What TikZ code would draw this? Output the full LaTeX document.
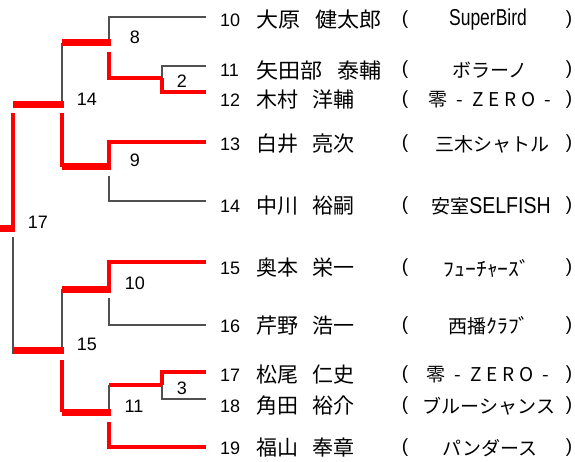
\documentclass[tikz,border=0pt]{standalone}
\usepackage{fontspec}
\usepackage{graphicx}
\setmainfont{Liberation Sans}
\newfontfamily\jfont{Noto Sans CJK JP}
\newfontfamily\jnamefont{Noto Sans CJK JP}[WordSpace=3]
\newfontfamily\jfontsp{Noto Sans CJK JP}[LetterSpace=25]
\usetikzlibrary{calc}

\definecolor{losegray}{RGB}{80,80,80}
\newcommand{\wname}[1]{\scalebox{1.05}[1]{#1}}
\newcommand{\hkana}[1]{\scalebox{1.14}[1.05]{#1}}

\begin{document}
\begin{tikzpicture}[
  x=1pt,
  y=-1pt
]

  \path[use as bounding box] (0,0) rectangle (575,462);

  \tikzstyle{winline}=[draw=red,line width=4.5pt]
  \tikzstyle{loseline}=[draw=losegray,line width=2pt]
  \tikzstyle{winbar}=[draw=red,line width=7pt,shorten >=-2pt]
  \tikzstyle{matchlab}=[inner sep=0pt,font=\fontsize{18}{20}\selectfont]
  \tikzstyle{seednode}=[anchor=west,inner sep=0pt,font=\fontsize{18}{20}\selectfont]
  \tikzstyle{namenode}=[anchor=west,inner sep=0pt,font=\jnamefont\fontsize{21}{23}\selectfont]
  \tikzstyle{teamnode}=[inner sep=0pt,font=\jfont\fontsize{19}{21}\selectfont]
  \tikzstyle{parnode}=[inner sep=0pt,font=\fontsize{19}{21}\selectfont]

  % match points
  \coordinate (fin) at (0,229);
  \coordinate (m17) at (13,229);
  \coordinate (m14) at (62,105);
  \coordinate (m15) at (62,350);
  \coordinate (m8) at (109,43);
  \coordinate (m9) at (109,167);
  \coordinate (m10) at (109,289);
  \coordinate (m11) at (109,412);
  \coordinate (m2) at (162,78);
  \coordinate (m3) at (162,385);

  % line ends
  \coordinate (e10) at (206,17);
  \coordinate (e11) at (206,66);
  \coordinate (e12) at (206,92);
  \coordinate (e13) at (206,142);
  \coordinate (e14) at (206,201);
  \coordinate (e15) at (206,262);
  \coordinate (e16) at (206,325);
  \coordinate (e17) at (206,372);
  \coordinate (e18) at (206,399);
  \coordinate (e19) at (206,447);

  % lost lines
  \draw[loseline] (e10) -| (m8);
  \draw[loseline] (e11) -| (m2);
  \draw[loseline] (m14 |- m8) -- (m14);
  \draw[loseline] ($(m9)+(0,9)$) |- (e14);
  \draw[loseline] ($(m17)+(0,8)$) -- ($(m17 |- m15)+(0,4)$);
  \draw[loseline] (m15 |- m10) -- (m15);
  \draw[loseline] ($(m10)+(0,9)$) |- (e16);
  \draw[loseline] (m11 |- m3) -- (m11);
  \draw[loseline] (m3) |- (e18);

  % won lines
  \draw[winline] ($(m8)+(0,9)$) |- (m2);
  \draw[winline] (m2) |- (e12);
  \draw[winline] ($(m14)+(0,8)$) -- (m14 |- m9);
  \draw[winline] (e13) -| (m9);
  \draw[winline] ($(m17 |- m14)+(0,8)$) -- (m17);
  \draw[winline] (e15) -| (m10);
  \draw[winline] ($(m15)+(0,10)$) -- (m15 |- m11);
  \draw[winline] (m11 |- m3) -- (m3);
  \draw[winline] ($(m11)+(0,10)$) |- (e19);
  \draw[winline] (e17) -| (m3);

  % bars
  \draw[winbar] (fin) -- (m17);
  \draw[winbar] (m17 |- m14) -- (m14);
  \draw[winbar] (m17 |- m15) -- (m15);
  \draw[winbar] (m14 |- m8) -- (m8);
  \draw[winbar] (m14 |- m9) -- (m9);
  \draw[winbar] (m15 |- m10) -- (m10);
  \draw[winbar] (m15 |- m11) -- (m11);

  % match numbers
  \node[matchlab] (lab8) at (135,37) {8};
  \node[matchlab] (lab2) at (182,81) {2};
  \node[matchlab] (lab14) at (87,99) {14};
  \node[matchlab] (lab9) at (135,160) {9};
  \node[matchlab] (lab17) at (38,222) {17};
  \node[matchlab] (lab10) at (135,283) {10};
  \node[matchlab] (lab15) at (87,344) {15};
  \node[matchlab] (lab3) at (182,388) {3};
  \node[matchlab] (lab11) at (134,406) {11};

  % players
  \node[seednode] (s10) at (220,20) {10};
  \node[namenode] (n10) at (256,20) {\wname{大原 健太郎}};
  \node[parnode] (l10) at (405,20) {(};
  \node[teamnode] (t10) at (488,20) {\rmfamily\fontsize{23}{25}\selectfont\scalebox{0.76}[1]{SuperBird}};
  \node[parnode] (r10) at (569,20) {)};

  \node[seednode] (s11) at (220,70) {11};
  \node[namenode] (n11) at (256,70) {\wname{矢田部 泰輔}};
  \node[parnode] (l11) at (405,70) {(};
  \node[teamnode] (t11) at (490,70) {ボラーノ};
  \node[parnode] (r11) at (569,70) {)};

  \node[seednode] (s12) at (220,100) {12};
  \node[namenode] (n12) at (256,100) {木村 洋輔};
  \node[parnode] (l12) at (405,100) {(};
  \node[teamnode] (t12) at (490,100) {\jfontsp 零 - ZERO -};
  \node[parnode] (r12) at (569,100) {)};

  \node[seednode] (s13) at (220,144) {13};
  \node[namenode] (n13) at (256,144) {白井 亮次};
  \node[parnode] (l13) at (405,144) {(};
  \node[teamnode] (t13) at (492,144) {三木シャトル};
  \node[parnode] (r13) at (569,144) {)};

  \node[seednode] (s14) at (220,206) {14};
  \node[namenode] (n14) at (256,206) {中川 裕嗣};
  \node[parnode] (l14) at (405,206) {(};
  \node[teamnode] (t14) at (491,206) {安室{\rmfamily\fontsize{23}{25}\selectfont\scalebox{0.85}[1]{SELFISH}}};
  \node[parnode] (r14) at (569,206) {)};

  \node[seednode] (s15) at (220,268) {15};
  \node[namenode] (n15) at (256,268) {奥本 栄一};
  \node[parnode] (l15) at (405,268) {(};
  \node[teamnode] (t15) at (487,268) {\hkana{ﾌｭｰﾁｬｰｽﾞ}};
  \node[parnode] (r15) at (569,268) {)};

  \node[seednode] (s16) at (220,326) {16};
  \node[namenode] (n16) at (256,326) {芹野 浩一};
  \node[parnode] (l16) at (405,326) {(};
  \node[teamnode] (t16) at (489,326) {西播\hkana{ｸﾗﾌﾞ}};
  \node[parnode] (r16) at (569,326) {)};

  \node[seednode] (s17) at (220,375) {17};
  \node[namenode] (n17) at (256,375) {松尾 仁史};
  \node[parnode] (l17) at (405,375) {(};
  \node[teamnode] (t17) at (488,375) {\jfontsp 零 - ZERO -};
  \node[parnode] (r17) at (569,375) {)};

  \node[seednode] (s18) at (220,406) {18};
  \node[namenode] (n18) at (256,406) {角田 裕介};
  \node[parnode] (l18) at (405,406) {(};
  \node[teamnode] (t18) at (489,406) {ブルーシャンス};
  \node[parnode] (r18) at (569,406) {)};

  \node[seednode] (s19) at (220,448) {19};
  \node[namenode] (n19) at (256,448) {福山 奉章};
  \node[parnode] (l19) at (405,448) {(};
  \node[teamnode] (t19) at (490,448) {パンダース};
  \node[parnode] (r19) at (569,448) {)};

\end{tikzpicture}
\end{document}
